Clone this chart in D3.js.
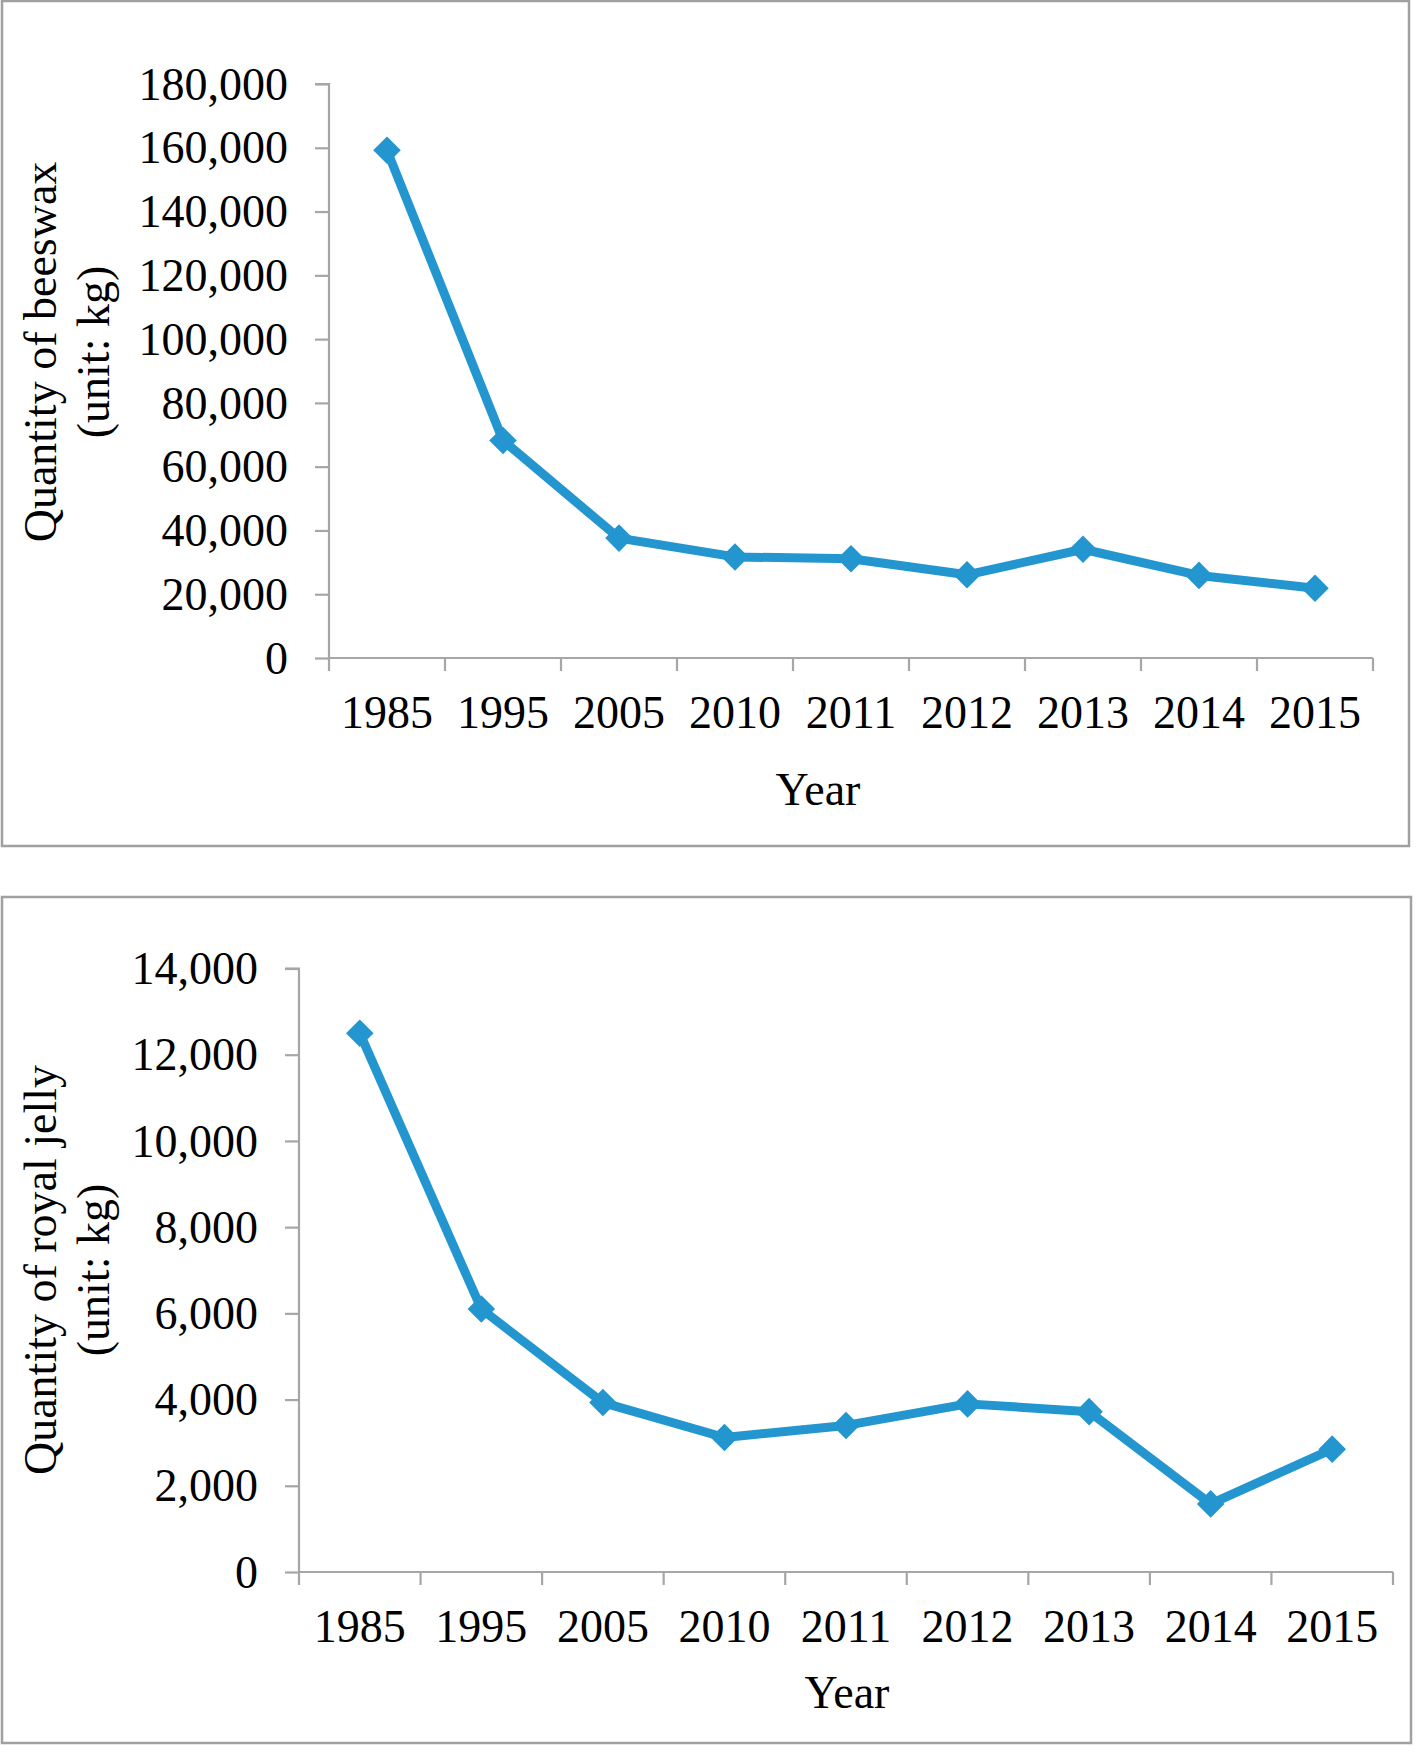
<!DOCTYPE html>
<html>
<head>
<meta charset="utf-8">
<script src="https://cdn.jsdelivr.net/npm/d3@7"></script>
<style>
  html, body { margin: 0; padding: 0; background: #fff; }
  svg { display: block; }
  text { font-family: "Liberation Serif", "Times New Roman", serif; fill: #000; }
</style>
</head>
<body>
<script>
const years = ["1985", "1995", "2005", "2010", "2011", "2012", "2013", "2014", "2015"];
const beeswax = [159200, 68200, 37600, 31700, 31100, 26100, 34100, 25900, 21900];
const royalJelly = [12500, 6100, 3930, 3120, 3400, 3900, 3720, 1580, 2850];
const beeswaxTicks = [0, 20000, 40000, 60000, 80000, 100000, 120000, 140000, 160000, 180000];
const jellyTicks = [0, 2000, 4000, 6000, 8000, 10000, 12000, 14000];

const W = 1428, H = 1763;
const lineColor = "#2496CF";
const axisColor = "#A6A6A6";
const fmt = d3.format(",");

const svg = d3.select("body").append("svg").attr("width", W).attr("height", H);

function drawPanel(cfg) {
  const g = svg.append("g");
  g.append("rect")
    .attr("x", cfg.box[0]).attr("y", cfg.box[1])
    .attr("width", cfg.box[2]).attr("height", cfg.box[3])
    .attr("fill", "#fff").attr("stroke", "#A0A0A0").attr("stroke-width", 2.5);

  const x = d3.scaleBand().domain(years).range(cfg.xRange).paddingInner(0).paddingOuter(0);
  const y = d3.scaleLinear().domain([0, cfg.yMax]).range(cfg.yRange);

  const yAxis = d3.axisLeft(y).tickValues(cfg.ticks).tickFormat(fmt).tickSize(14).tickPadding(27);
  const ya = g.append("g").attr("transform", `translate(${cfg.xRange[0]},0)`).call(yAxis);
  ya.select(".domain").attr("stroke", axisColor).attr("stroke-width", 2.2).attr("d",
    `M-14,${cfg.yRange[1]}H0V${cfg.yRange[0]}`);
  ya.selectAll(".tick line").attr("stroke", axisColor).attr("stroke-width", 2.2);
  ya.selectAll(".tick text")
    .attr("font-family", "'Liberation Serif', 'Times New Roman', serif")
    .attr("font-size", 46).attr("fill", "#000").attr("dy", "0.33em");

  const xa = g.append("g").attr("transform", `translate(0,${cfg.yRange[0]})`);
  xa.append("path")
    .attr("d", `M${cfg.xRange[0]},0H${cfg.xRange[1]}`)
    .attr("stroke", axisColor).attr("stroke-width", 2.2).attr("fill", "none");
  const bounds = years.map(d => x(d)).concat([cfg.xRange[1]]);
  xa.selectAll("line.tk").data(bounds).join("line")
    .attr("class", "tk")
    .attr("x1", d => d).attr("x2", d => d)
    .attr("y1", 0).attr("y2", 13)
    .attr("stroke", axisColor).attr("stroke-width", 2.2);
  xa.selectAll("text.lbl").data(years).join("text")
    .attr("class", "lbl")
    .attr("x", d => x(d) + x.bandwidth() / 2)
    .attr("y", 70)
    .attr("text-anchor", "middle")
    .attr("font-size", 46)
    .text(d => d);

  g.append("text")
    .attr("x", cfg.xTitle[0]).attr("y", cfg.xTitle[1])
    .attr("text-anchor", "middle").attr("font-size", 46)
    .text("Year");
  const yt = g.append("text")
    .attr("transform", `translate(${cfg.yTitleX},${cfg.yTitleY}) rotate(-90)`)
    .attr("text-anchor", "middle").attr("font-size", 46);
  yt.append("tspan").attr("x", 0).attr("y", 0).text(cfg.yTitle);
  yt.append("tspan").attr("x", 0).attr("y", 53).text("(unit: kg)");

  const line = d3.line()
    .x((d, i) => x(years[i]) + x.bandwidth() / 2)
    .y(d => y(d));
  g.append("path").datum(cfg.values)
    .attr("d", line)
    .attr("fill", "none").attr("stroke", lineColor)
    .attr("stroke-width", 9).attr("stroke-linejoin", "round");

  g.selectAll("path.mk").data(cfg.values).join("path")
    .attr("class", "mk")
    .attr("transform", (d, i) => `translate(${x(years[i]) + x.bandwidth() / 2},${y(d)}) rotate(45)`)
    .attr("d", d3.symbol().type(d3.symbolSquare).size(380))
    .attr("fill", lineColor);
}

drawPanel({
  box: [2, 1, 1407, 845],
  xRange: [329, 1373],
  yRange: [658, 84],
  yMax: 180000,
  ticks: beeswaxTicks,
  values: beeswax,
  xTitle: [818, 805],
  yTitleX: 56,
  yTitleY: 352,
  yTitle: "Quantity of beeswax"
});

drawPanel({
  box: [2, 897, 1409, 846],
  xRange: [299, 1393],
  yRange: [1572, 968.5],
  yMax: 14000,
  ticks: jellyTicks,
  values: royalJelly,
  xTitle: [847, 1708],
  yTitleX: 56,
  yTitleY: 1270,
  yTitle: "Quantity of royal jelly"
});
</script>
</body>
</html>
